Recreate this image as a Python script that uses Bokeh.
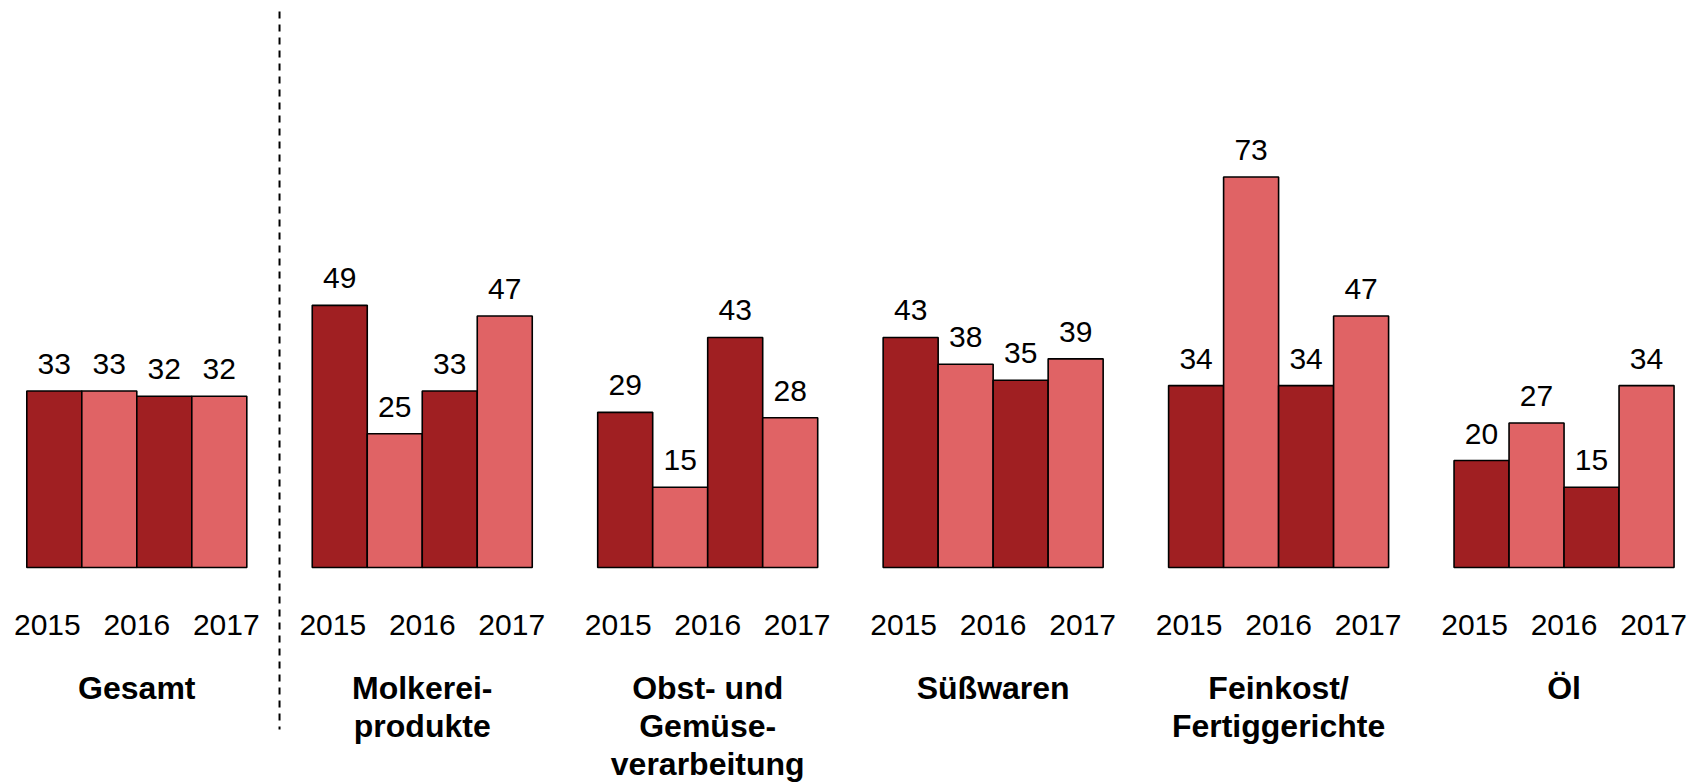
from bokeh.plotting import figure
from bokeh.models import ColumnDataSource, Range1d
from bokeh.core.properties import value
from bokeh.embed import file_html
from bokeh.resources import INLINE

# ---- data ----
categories = ["Gesamt", "Molkerei-\nprodukte", "Obst- und\nGemüse-\nverarbeitung",
              "Süßwaren", "Feinkost/\nFertiggerichte", "Öl"]
bar1 = [33, 49, 29, 43, 34, 20]
bar2 = [33, 25, 15, 38, 73, 27]
bar3 = [32, 33, 43, 35, 34, 15]
bar4 = [32, 47, 28, 39, 47, 34]
year_labels = ["2015", "2016", "2017"]
bar_colors = ["#A01F22", "#E06365", "#A01F22", "#E06365"]

# ---- layout (pixels) ----
W, H = 1700, 782
BAR_PX = 55.0            # bar width in px -> 1 x-unit
LEFT_PX = 26.3           # left edge of first bar in figure px
GROUP_STEP = 5.19        # group spacing in bar units
BASE_PX = 567.0          # baseline from top (figure px)
PX_PER_UNIT = 5.35       # y px per value unit

x_start = -LEFT_PX / BAR_PX
x_end = (W - LEFT_PX) / BAR_PX
y_start = -(H - BASE_PX) / PX_PER_UNIT
y_end = BASE_PX / PX_PER_UNIT

def ypx(px_from_top):
    return (BASE_PX - px_from_top) / PX_PER_UNIT

p = figure(width=W, height=H, output_backend="svg", toolbar_location=None,
           x_range=Range1d(x_start, x_end), y_range=Range1d(y_start, y_end),
           min_border=0, min_border_left=0, min_border_right=0,
           min_border_top=0, min_border_bottom=0)
p.axis.visible = False
p.grid.visible = False
p.outline_line_color = None
p.background_fill_color = "white"
p.border_fill_color = "white"

series = [bar1, bar2, bar3, bar4]
xs, tops, cols, labs = [], [], [], []
for g in range(len(categories)):
    for i, s in enumerate(series):
        xs.append(g * GROUP_STEP + i + 0.5)
        tops.append(s[g])
        cols.append(bar_colors[i])
        labs.append(str(s[g]))
src = ColumnDataSource(dict(x=xs, top=tops, color=cols, lab=labs))
p.vbar(x="x", top="top", bottom=0, width=1.0, fill_color="color",
       line_color="black", line_width=1.6, source=src)
p.text(x="x", y="top", text="lab", source=src, text_align="center",
       text_baseline="alphabetic", y_offset=-27,
       text_font=value("Liberation Sans"), text_font_size="30px",
       text_color="black")

# year labels
yx, yy, yt = [], [], []
for g in range(len(categories)):
    c = g * GROUP_STEP + 2.0
    for k, yl in enumerate(year_labels):
        yx.append(c + (k - 1) * 1.627)
        yy.append(ypx(624))
        yt.append(yl)
p.text(x=yx, y=yy, text=yt, text_align="center", text_baseline="alphabetic",
       text_font=value("Liberation Sans"), text_font_size="30px", text_color="black")

# category labels
cx, cy, ct = [], [], []
for g, cat in enumerate(categories):
    for li, line in enumerate(cat.split("\n")):
        cx.append(g * GROUP_STEP + 2.0)
        cy.append(ypx(687 + li * 38))
        ct.append(line)
p.text(x=cx, y=cy, text=ct, text_align="center", text_baseline="alphabetic",
       text_font=value("Liberation Sans"), text_font_size="32px",
       text_font_style="bold", text_color="black")

# dashed separator between Gesamt and the rest
sep_x = (4 + GROUP_STEP) / 2.0
p.segment(x0=[sep_x], y0=[ypx(11)], x1=[sep_x], y1=[ypx(729)],
          line_color="black", line_width=2, line_dash="7 6")

open("out.html", "w").write(file_html(p, INLINE))
